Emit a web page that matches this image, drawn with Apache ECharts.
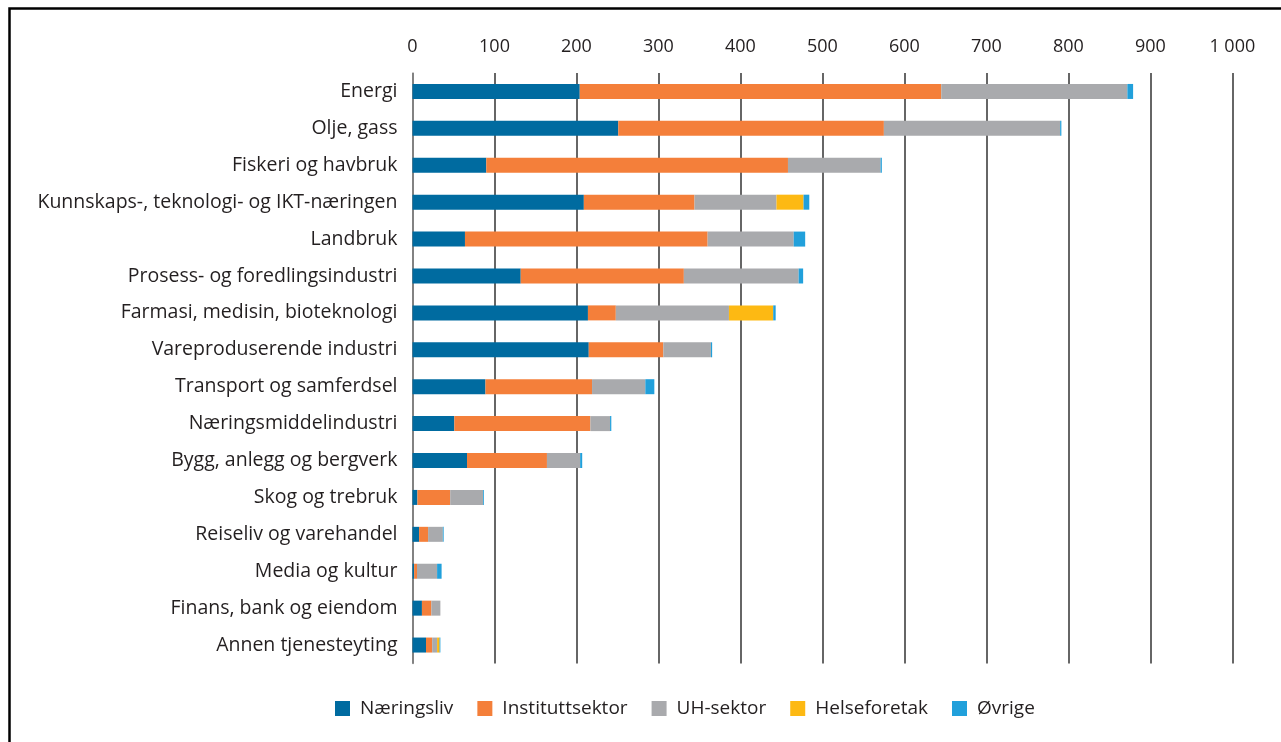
<!DOCTYPE html>
<html>
<head>
<meta charset="utf-8">
<script src="https://cdn.jsdelivr.net/npm/echarts@6/dist/echarts.min.js"></script>
<style>
  html, body { margin: 0; padding: 0; background: #fff; }
  #main { width: 1281px; height: 742px; }
</style>
</head>
<body>
<div id="main"></div>
<script>
// kategorier (fra topp til bunn)
var categories = [
  "Energi", "Olje, gass", "Fiskeri og havbruk",
  "Kunnskaps-, teknologi- og IKT-næringen", "Landbruk",
  "Prosess- og foredlingsindustri", "Farmasi, medisin, bioteknologi",
  "Vareproduserende industri", "Transport og samferdsel",
  "Næringsmiddelindustri", "Bygg, anlegg og bergverk", "Skog og trebruk",
  "Reiseliv og varehandel", "Media og kultur", "Finans, bank og eiendom",
  "Annen tjenesteyting"
];

var naeringsliv      = [204, 251, 90, 209, 64, 132, 214, 215, 89, 51, 66.5, 6, 8, 2, 11.5, 16.5];
var instituttsektor  = [441, 324, 368, 135, 296, 199, 34, 91, 130, 166, 97.5, 40, 11, 3.5, 11.5, 7.5];
var uhSektor         = [227, 215, 113, 100, 105, 140, 138, 58, 65, 24, 40.5, 40, 18, 24.5, 11, 6];
var helseforetak     = [0, 0, 0, 33, 0, 0, 54, 0, 0, 0, 0, 0, 0, 0, 0, 3];
var ovrige           = [7, 1.5, 1.5, 7, 14, 5.5, 3, 1.5, 11, 1.5, 2.5, 1, 1, 5.5, 0, 1];

var seriesNames = ["Næringsliv", "Instituttsektor", "UH-sektor", "Helseforetak", "Øvrige"];
var seriesColors = ["#006ba0", "#f47f3a", "#a9aaad", "#fdb913", "#21a0db"];
var seriesData = [naeringsliv, instituttsektor, uhSektor, helseforetak, ovrige];

var FONT = "Open Sans";

var myChart = echarts.init(document.getElementById("main"));

var option = {
  backgroundColor: "#fff",
  animation: false,
  textStyle: { fontFamily: FONT },
  graphic: [
    {
      type: "rect",
      left: 7, top: 6,
      shape: { width: 1400, height: 900 },
      style: { fill: "none", stroke: "#000", lineWidth: 2.5 },
      silent: true
    }
  ],
  legend: {
    left: 330,
    top: 694,
    itemWidth: 15,
    itemHeight: 15,
    itemGap: 24,
    icon: "rect",
    textStyle: {
      fontSize: 19,
      color: "#231f20",
      fontFamily: FONT,
      padding: [0, 0, 0, 5]
    },
    data: seriesNames
  },
  grid: {
    left: 412.5,
    right: 48.7,
    top: 73,
    bottom: 78.5,
    containLabel: false
  },
  xAxis: {
    type: "value",
    position: "top",
    min: 0,
    max: 1000,
    interval: 100,
    axisLine: { show: false },
    axisTick: { show: false },
    axisLabel: {
      margin: 17,
      fontSize: 18,
      color: "#231f20",
      fontFamily: FONT,
      formatter: function (v) {
        return String(v).replace(/\B(?=(\d{3})+(?!\d))/g, " ");
      }
    },
    splitLine: { show: true, lineStyle: { color: "#333", width: 1.5 } }
  },
  yAxis: {
    type: "category",
    inverse: true,
    data: categories,
    axisLine: { show: true, lineStyle: { color: "#8c8c8c", width: 1.5 } },
    axisTick: { show: false },
    axisLabel: {
      margin: 15,
      fontSize: 19.5,
      color: "#231f20",
      fontFamily: FONT
    }
  },
  series: seriesNames.map(function (name, i) {
    return {
      name: name,
      type: "bar",
      stack: "total",
      barWidth: 15,
      itemStyle: { color: seriesColors[i] },
      data: seriesData[i]
    };
  })
};

option && myChart.setOption(option);
</script>
</body>
</html>
